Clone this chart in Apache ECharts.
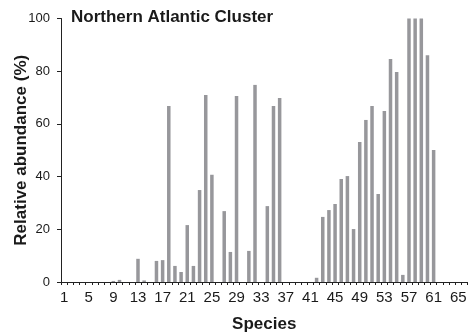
<!DOCTYPE html>
<html>
<head>
<meta charset="utf-8">
<script src="https://cdn.jsdelivr.net/npm/echarts@6/dist/echarts.min.js"></script>
<style>html,body{margin:0;padding:0;background:#fff;}#c{width:469px;height:332px;}</style>
</head>
<body>
<div id="c"></div>
<script>
var species = [];
for (var s = 1; s <= 66; s++) species.push(String(s));
var abundance = [0,0,0,0,0,0,0,0,0.4,0.8,
  0,0,8.8,0.6,0,8.0,8.3,66.8,6.1,3.8,
  21.6,6.1,34.9,71,40.7,0,26.9,11.4,70.6,0,
  11.8,74.8,0,28.8,66.8,69.8,0,0,0,0,
  0,1.6,24.7,27.3,29.6,39.1,40.2,20.1,53.1,61.5,
  66.8,33.4,64.9,84.6,79.7,2.7,100,100,100,86.1,
  50.1,0,0,0,0,0];
var yTicks = [0,20,40,60,80,100];
var titleText = 'Northern Atlantic Cluster';
var xName = 'Species';
var yName = 'Relative abundance (%)';

var chart = echarts.init(document.getElementById('c'), null, {renderer:'canvas'});
var FONT = '"Liberation Sans", Arial, Helvetica, sans-serif';
chart.setOption({
  animation: false,
  backgroundColor: '#fff',
  textStyle: {fontFamily: FONT},
  title: {
    text: titleText, left: 71, top: 9, padding: 0,
    textStyle: {fontSize: 17, fontWeight: 'bold', color: '#1a1a1a', fontFamily: FONT}
  },
  grid: {left: 61, right: 1.5, top: 18.5, bottom: 50, containLabel: false, outerBoundsMode: 'none'},
  xAxis: {
    type: 'category', data: species, boundaryGap: true,
    name: xName, nameLocation: 'middle', nameGap: 34, nameMoveOverlap: false,
    nameTextStyle: {fontSize: 17, fontWeight: 'bold', color: '#1a1a1a', fontFamily: FONT},
    axisLine: {lineStyle: {color: '#222', width: 1}},
    axisTick: {show: true, interval: 0, length: 3, lineStyle: {color: '#222'}},
    axisLabel: {interval: function (i) { return i % 4 === 0; }, fontSize: 15, color: '#1a1a1a', margin: 8, fontFamily: FONT},
    splitLine: {show: false}
  },
  yAxis: {
    type: 'value', min: yTicks[0], max: yTicks[yTicks.length - 1], interval: 20,
    name: yName, nameLocation: 'middle', nameGap: 31, nameRotate: 90, nameMoveOverlap: false,
    nameTextStyle: {fontSize: 17, fontWeight: 'bold', color: '#1a1a1a', fontFamily: FONT},
    axisLine: {show: true, lineStyle: {color: '#222', width: 1}},
    axisTick: {show: true, length: 4, lineStyle: {color: '#222'}},
    axisLabel: {fontSize: 13, color: '#1a1a1a', margin: 11, fontFamily: FONT},
    splitLine: {show: false}
  },
  series: [{
    type: 'bar', data: abundance, barWidth: 3.5,
    itemStyle: {color: '#97979b'}
  }]
});
</script>
</body>
</html>
